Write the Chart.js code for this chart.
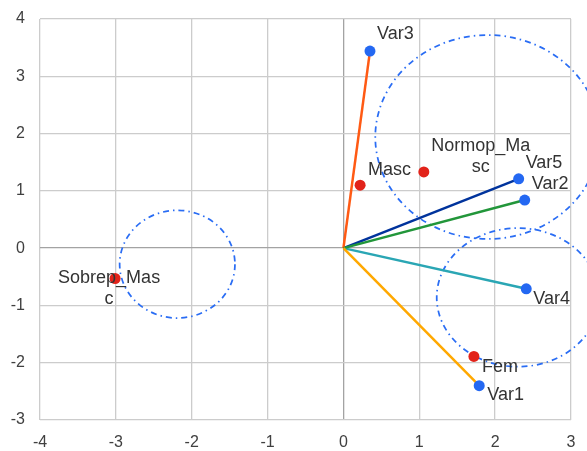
<!DOCTYPE html>
<html>
<head>
<meta charset="utf-8">
<script src="https://cdn.jsdelivr.net/npm/chart.js@4"></script>
<style>
  body { margin: 0; background: #fff; }
  canvas { display: block; }
</style>
</head>
<body>
<canvas id="biplot" width="587" height="451"></canvas>
<script>
// Variables (vectors from origin)
const varNames = ['Var1', 'Var2', 'Var3', 'Var4', 'Var5'];
const varX = [1.79, 2.39, 0.35, 2.41, 2.31];
const varY = [-2.40, 0.84, 3.44, -0.71, 1.21];
const varColors = ['#ffa800', '#22963a', '#ff5a14', '#2aa6b4', '#00339c'];

// Category points
const catNames = ['Masc', 'Fem', 'Normop_Masc', 'Sobrep_Masc'];
const catX = [0.22, 1.72, 1.06, -3.01];
const catY = [1.10, -1.89, 1.33, -0.53];

// Dash-dot ellipses (centre and radii in data units)
const ellCx = [-2.19, 1.90, 2.30];
const ellCy = [-0.28, 1.94, -0.86];
const ellRx = [0.76, 1.48, 1.07];
const ellRy = [0.94, 1.78, 1.21];

const xTicks = [-4, -3, -2, -1, 0, 1, 2, 3];
const yTicks = [-3, -2, -1, 0, 1, 2, 3, 4];

// label placement relative to the point (pixels)
const varLabelPos = [[8, 9], [7, -16], [7, -17], [7, 10], [7, -16]];
const catLabelPos = [
  { lines: ['Masc'], dx: 8, dy: -15, align: 'left' },
  { lines: ['Fem'], dx: 8, dy: 11, align: 'left' },
  { lines: ['Normop_Ma', 'sc'], dx: 57, dy: -26, align: 'center' },
  { lines: ['Sobrep_Mas', 'c'], dx: -6, dy: 0, align: 'center' }
];

const datasets = varNames.map((name, i) => ({
  label: name,
  data: [{ x: 0, y: 0 }, { x: varX[i], y: varY[i] }],
  showLine: true,
  borderColor: varColors[i],
  borderWidth: 2.5,
  pointRadius: [0, 5.5],
  pointBackgroundColor: '#2468f2',
  pointBorderWidth: 0
}));
datasets.push({
  label: 'cats',
  data: catNames.map((n, i) => ({ x: catX[i], y: catY[i] })),
  showLine: false,
  pointRadius: 5.5,
  pointBackgroundColor: '#e2231a',
  pointBorderWidth: 0
});

const ellipsePlugin = {
  id: 'ellipses',
  beforeDatasetsDraw(chart) {
    const { ctx, scales: { x, y } } = chart;
    ctx.save();
    ctx.strokeStyle = '#2a6df4';
    ctx.lineWidth = 1.75;
    ctx.setLineDash([6, 4, 1.5, 4]);
    for (let i = 0; i < ellCx.length; i++) {
      const cx = x.getPixelForValue(ellCx[i]);
      const cy = y.getPixelForValue(ellCy[i]);
      const rx = Math.abs(x.getPixelForValue(ellCx[i] + ellRx[i]) - cx);
      const ry = Math.abs(y.getPixelForValue(ellCy[i] + ellRy[i]) - cy);
      ctx.beginPath();
      ctx.ellipse(cx, cy, rx, ry, 0, 0, Math.PI * 2);
      ctx.stroke();
    }
    ctx.restore();
  }
};

const labelPlugin = {
  id: 'pointLabels',
  afterDatasetsDraw(chart) {
    const ctx = chart.ctx;
    ctx.save();
    ctx.font = '18px "Liberation Sans", Arial, sans-serif';
    ctx.fillStyle = '#333333';
    ctx.textBaseline = 'middle';
    varNames.forEach((name, i) => {
      const pt = chart.getDatasetMeta(i).data[1];
      ctx.textAlign = 'left';
      ctx.fillText(name, pt.x + varLabelPos[i][0], pt.y + varLabelPos[i][1]);
    });
    const meta = chart.getDatasetMeta(varNames.length);
    catLabelPos.forEach((lab, i) => {
      const pt = meta.data[i];
      ctx.textAlign = lab.align;
      lab.lines.forEach((ln, k) => {
        ctx.fillText(ln, pt.x + lab.dx, pt.y + lab.dy + k * 21);
      });
    });
    ctx.restore();
  }
};

const gridColor = c => (c.tick && c.tick.value === 0) ? '#a3a3a3' : '#cccccc';
const tickFont = { size: 16, family: '"Liberation Sans", Arial, sans-serif' };
const noPad = s => { s.paddingTop = 0; s.paddingBottom = 0; s.paddingLeft = 0; s.paddingRight = 0; };

new Chart(document.getElementById('biplot'), {
  type: 'scatter',
  data: { datasets },
  options: {
    responsive: false,
    animation: false,
    devicePixelRatio: 1,
    layout: { padding: { top: 19, right: 16, left: 0, bottom: 0 } },
    plugins: { legend: { display: false }, tooltip: { enabled: false } },
    scales: {
      x: {
        min: xTicks[0], max: xTicks[xTicks.length - 1],
        afterBuildTicks: s => { s.ticks = xTicks.map(v => ({ value: v })); },
        afterFit: s => { s.height = 31; noPad(s); },
        grid: { color: gridColor, lineWidth: 1.3, drawTicks: false },
        border: { display: false },
        ticks: { padding: 13, color: '#404040', font: tickFont }
      },
      y: {
        min: yTicks[0], max: yTicks[yTicks.length - 1],
        afterBuildTicks: s => { s.ticks = yTicks.map(v => ({ value: v })); },
        afterFit: s => { s.width = 40; noPad(s); },
        grid: { color: gridColor, lineWidth: 1.3, drawTicks: false },
        border: { display: false },
        ticks: { padding: 15, color: '#404040', font: tickFont }
      }
    }
  },
  plugins: [ellipsePlugin, labelPlugin]
});
</script>
</body>
</html>
